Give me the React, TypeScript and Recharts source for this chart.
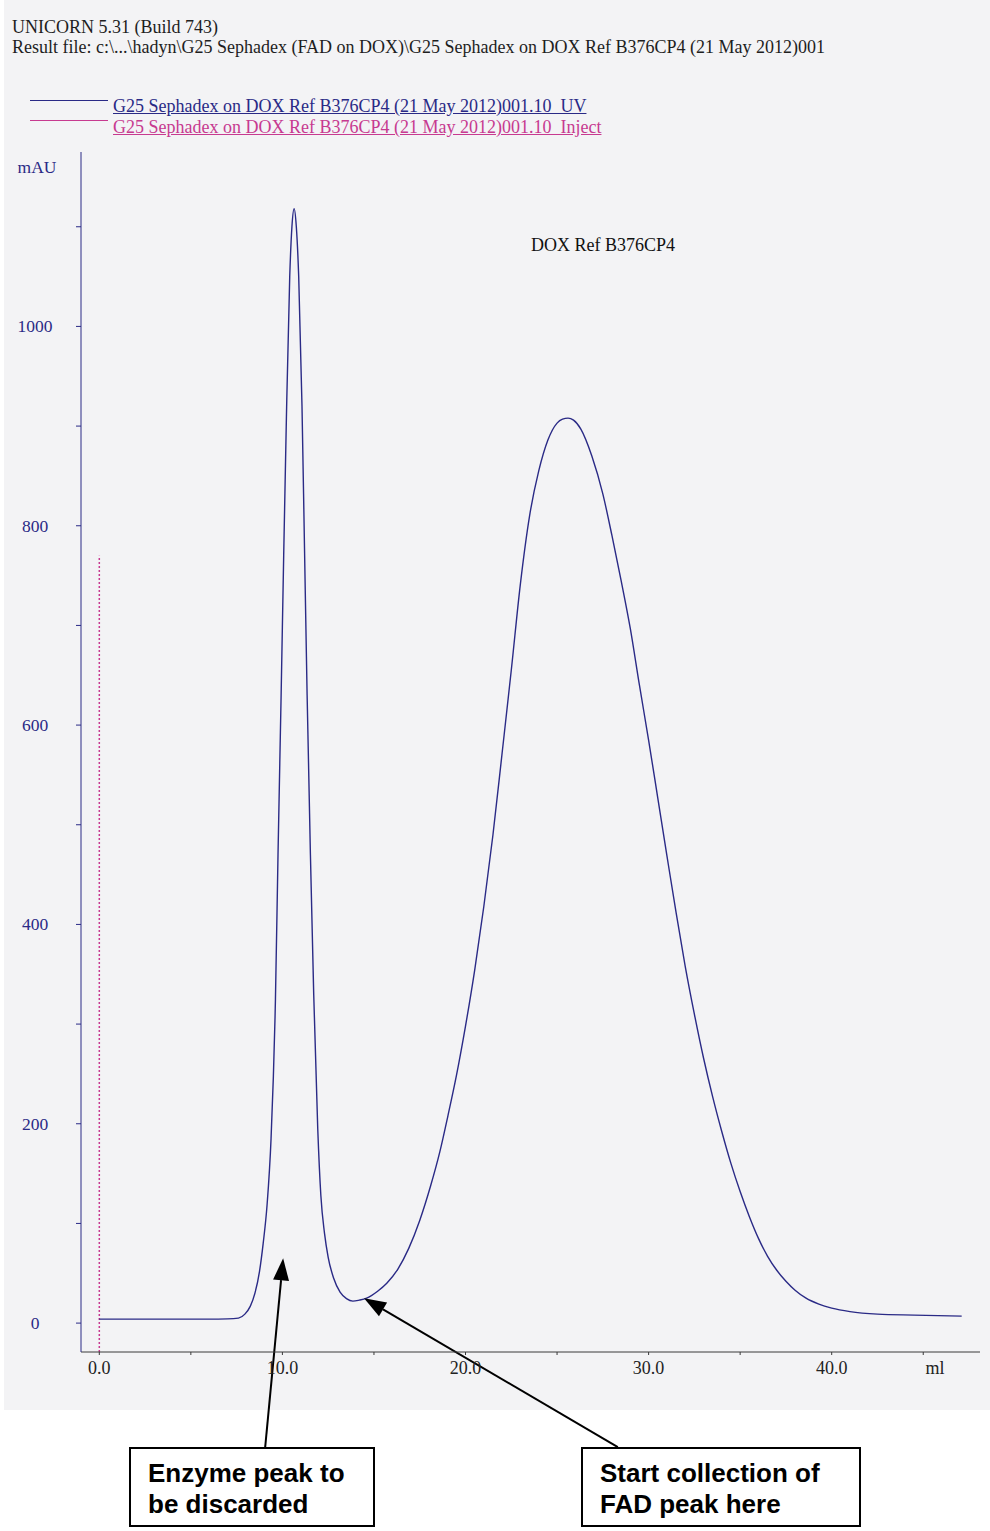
import React from "react";
import { ComposedChart, Line, XAxis, YAxis, ReferenceLine } from "recharts";

// ─── Data ──────────────────────────────────────────────────────────

const uvMl = [
  0, 2, 4, 6, 7.0, 7.6, 7.95, 8.25, 8.5, 8.75, 8.95, 9.16, 9.38, 9.62, 9.76, 9.93,
  10.07, 10.22, 10.4, 10.52, 10.64, 10.76, 10.89, 11.07, 11.2, 11.35, 11.53, 11.71,
  11.93, 12.1, 12.3, 12.5, 12.8, 13.15, 13.5, 13.85, 14.2, 14.6, 15.2, 15.7, 16.3,
  16.9, 17.5, 18.1, 18.6, 19.04, 19.5, 20.0, 20.5, 21.0, 21.5, 22.0, 22.5, 23.0,
  23.5, 24.0, 24.5, 25.0, 25.3, 25.6, 25.9, 26.3, 26.9, 27.5, 28.0, 28.5, 29.0, 29.5,
  30.0, 30.5, 31.0, 31.5, 32.0, 32.5, 33.0, 33.5, 34.0, 34.5, 35.0, 35.5, 36.0, 36.5,
  37.0, 37.5, 38.0, 38.6, 39.3, 40.0, 41.0, 42.5, 44.5, 47.1,
];
const uvMau = [
  4, 4, 4, 4, 4.2, 5, 9, 17, 30, 52, 80, 118, 185, 325, 470, 630,
  770, 910, 1050, 1100, 1118, 1100, 1050, 920, 785, 630, 470, 330,
  195, 128, 90, 66, 45, 31, 24.5, 22, 23, 25, 32, 40, 54,
  75, 103, 138, 172, 208, 248, 298, 354, 418, 490, 572, 655, 742,
  810, 855, 886, 903, 907, 908, 906, 897, 870, 832, 790, 745, 697, 640,
  585, 527, 469, 412, 358, 310, 266, 227, 192, 160, 132, 107, 85, 67,
  53, 42, 33, 25, 19, 15, 11.5, 9, 8, 7,
];

const injectMl = [0, 0];
const injectMau = [-29, 770];

const xTicks = [0, 5, 10, 15, 20, 25, 30, 35, 40, 45];
const yTicks = [0, 100, 200, 300, 400, 500, 600, 700, 800, 900, 1000, 1100];

const uvName = "G25 Sephadex on DOX Ref B376CP4 (21 May 2012)001.10_UV";
const injectName = "G25 Sephadex on DOX Ref B376CP4 (21 May 2012)001.10_Inject";

// arrows: tail under the plot -> tip on the curve (ml, mAU)
const arrows = [
  { from: { x: 9.06, y: -124.5 }, to: { x: 10.04, y: 65 } },
  { from: { x: 28.32, y: -124.5 }, to: { x: 14.46, y: 25 } },
];

const uvData = uvMl.map((ml, i) => ({ ml, mau: uvMau[i] }));
const injectData = injectMl.map((ml, i) => ({ ml, mau: injectMau[i] }));

// ─── Styling ───────────────────────────────────────────────────────

const SERIF = "'Liberation Serif', 'Times New Roman', serif";
const NAVY = "#2a2a86";
const PINK = "#c73a90";

// ─── Custom ticks / shapes ─────────────────────────────────────────

function YTick({ x, y, payload }: any) {
  if (payload.value % 200 !== 0) return null;
  return (
    <text x={x - 41} y={y + 6} textAnchor="middle" fill={NAVY} fontFamily={SERIF} fontSize={17.5}>
      {payload.value}
    </text>
  );
}

function XTick({ x, y, payload }: any) {
  if (payload.value % 10 !== 0) return null;
  return (
    <text x={x} y={y + 19} textAnchor="middle" fill="#222" fontFamily={SERIF} fontSize={18}>
      {payload.value.toFixed(1)}
    </text>
  );
}

function Arrow({ x1, y1, x2, y2 }: any) {
  const ang = Math.atan2(y2 - y1, x2 - x1);
  const len = 22;
  const half = 8;
  const bx = x2 - len * Math.cos(ang);
  const by = y2 - len * Math.sin(ang);
  const px = -Math.sin(ang) * half;
  const py = Math.cos(ang) * half;
  return (
    <g>
      <line x1={x1} y1={y1} x2={bx} y2={by} stroke="#000" strokeWidth={2} />
      <polygon points={`${x2},${y2} ${bx + px},${by + py} ${bx - px},${by - py}`} fill="#000" />
    </g>
  );
}

const boxStyle: React.CSSProperties = {
  position: "absolute",
  top: 1447,
  height: 80,
  border: "2px solid #000",
  background: "#fff",
  boxSizing: "border-box",
  padding: "9px 0 0 17px",
  fontFamily: "'Liberation Sans', Arial, sans-serif",
  fontWeight: "bold",
  fontSize: 26,
  lineHeight: "31px",
  color: "#000",
  whiteSpace: "nowrap",
};

const headStyle: React.CSSProperties = {
  position: "absolute",
  fontFamily: SERIF,
  fontSize: 18,
  whiteSpace: "nowrap",
  lineHeight: "20px",
};

// ─── Component ─────────────────────────────────────────────────────

export default function App() {
  return (
    <div style={{ position: "absolute", left: 0, top: 0, width: 990, height: 1531, background: "#fff", overflow: "hidden" }}>
      <div style={{ position: "absolute", left: 4, top: 0, width: 986, height: 1410, background: "#f3f3f5" }} />

      {/* header */}
      <div style={{ ...headStyle, left: 12, top: 17, color: "#1e1e1e" }}>
        UNICORN 5.31 (Build 743)
        <br />
        Result file: c:\...\hadyn\G25 Sephadex (FAD on DOX)\G25 Sephadex on DOX Ref B376CP4 (21 May 2012)001
      </div>

      {/* legend */}
      <div style={{ position: "absolute", left: 30, top: 100, width: 78, height: 1, background: NAVY }} />
      <div style={{ position: "absolute", left: 30, top: 120, width: 78, height: 1, background: PINK }} />
      <div style={{ ...headStyle, left: 113, top: 96, color: NAVY, textDecoration: "underline" }}>{uvName}</div>
      <div style={{ ...headStyle, left: 113, top: 117, color: PINK, textDecoration: "underline" }}>{injectName}</div>

      <div style={{ ...headStyle, left: 531, top: 235, color: "#111" }}>DOX Ref B376CP4</div>

      <div style={{ position: "absolute", left: 0, top: 0 }}>
        <ComposedChart width={990} height={1531} margin={{ top: 152, right: 10, bottom: 149, left: 21 }}>
          <XAxis
            type="number"
            dataKey="ml"
            domain={[-1, 48.1]}
            ticks={xTicks}
            allowDataOverflow
            height={30}
            stroke="#3a3a3a"
            tickSize={3}
            tickMargin={0}
            tick={<XTick />}
            label={{
              content: ({ viewBox }: any) => (
                <text x={viewBox.x + viewBox.width - 45} y={viewBox.y + 22} textAnchor="middle" fill="#222" fontFamily={SERIF} fontSize={18}>
                  ml
                </text>
              ),
            }}
          />
          <YAxis
            type="number"
            dataKey="mau"
            domain={[-29, 1175]}
            ticks={yTicks}
            allowDataOverflow
            width={60}
            stroke={NAVY}
            tickSize={5}
            tickMargin={0}
            tick={<YTick />}
            label={{
              content: ({ viewBox }: any) => (
                <text x={viewBox.x + viewBox.width - 44} y={viewBox.y + 21} textAnchor="middle" fill={NAVY} fontFamily={SERIF} fontSize={17.5}>
                  mAU
                </text>
              ),
            }}
          />

          {/* Inject mark — dotted pink */}
          <Line
            data={injectData}
            dataKey="mau"
            name={injectName}
            stroke={PINK}
            strokeWidth={1.5}
            strokeDasharray="2 2"
            dot={false}
            isAnimationActive={false}
          />

          {/* UV trace */}
          <Line
            data={uvData}
            type="monotone"
            dataKey="mau"
            name={uvName}
            stroke={NAVY}
            strokeWidth={1.4}
            dot={false}
            isAnimationActive={false}
          />

          {arrows.map((a, i) => (
            <ReferenceLine key={i} segment={[a.from, a.to]} ifOverflow="visible" shape={<Arrow />} />
          ))}
        </ComposedChart>
      </div>

      {/* annotation boxes */}
      <div style={{ ...boxStyle, left: 129, width: 246 }}>
        Enzyme peak to
        <br />
        be discarded
      </div>
      <div style={{ ...boxStyle, left: 581, width: 280 }}>
        Start collection of
        <br />
        FAD peak here
      </div>
    </div>
  );
}
